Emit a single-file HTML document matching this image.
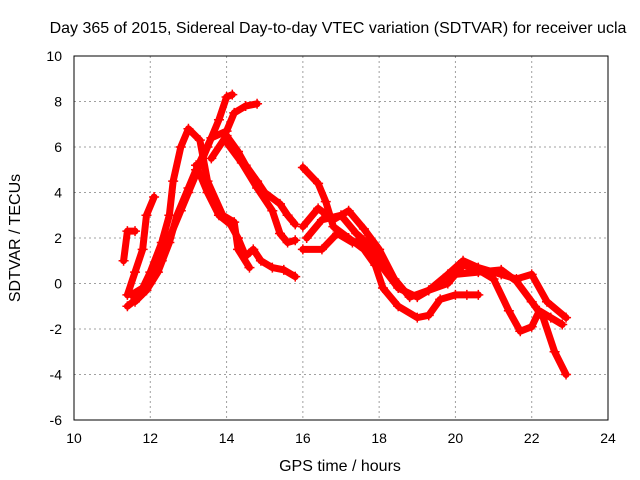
<!DOCTYPE html>
<html><head><meta charset="utf-8"><style>
body{margin:0;background:#fff;}
svg{display:block;font-family:"Liberation Sans",Arial,sans-serif;}
</style></head><body>
<svg id="chart" width="640" height="480">
<rect x="0" y="0" width="640" height="480" fill="#fff"/>
<text x="338" y="33" font-size="16" text-anchor="middle">Day 365 of 2015, Sidereal Day-to-day VTEC variation (SDTVAR) for receiver ucla</text>
<text x="340" y="471" font-size="16" text-anchor="middle">GPS time / hours</text>
<text transform="translate(20,238) rotate(-90)" font-size="16" text-anchor="middle">SDTVAR / TECUs</text>
<g id="grid"></g><g id="axes"></g><g id="series"></g>
</svg>
<script>
const xTicks=[10,12,14,16,18,20,22,24];
const yTicks=[-6,-4,-2,0,2,4,6,8,10];
const trackA=[[11.4,-1],[11.7,-0.6],[12,0],[12.3,1],[12.5,2],[12.8,3.2],[13,4],[13.3,5.2],[13.5,6],[13.8,7.2],[14,8.2],[14.15,8.3]];
const trackB=[[11.5,-0.5],[11.8,-0.2],[12,0.5],[12.3,1.8],[12.5,3],[12.6,4.5],[12.8,6],[13,6.8],[13.3,6.3],[13.5,4.5],[13.9,3],[14.2,2.7],[14.3,1.5],[14.6,0.7]];
const trackC=[[11.6,-0.8],[11.9,-0.3],[12.2,0.5],[12.5,1.8],[12.7,3],[13,4.2],[13.2,5],[13.6,6.4],[14,6.7],[14.2,7.5],[14.5,7.8],[14.8,7.9]];
const trackD=[[13.6,5.5],[14,6.5],[14.3,5.8],[14.5,5.2],[14.8,4.5],[15,4],[15.4,3.5],[15.6,3],[15.8,2.6]];
const trackE=[[14,6.2],[14.4,5.3],[14.8,4.2],[15.2,3.2],[15.4,2.2],[15.6,1.8],[15.8,1.9]];
const trackF=[[13.2,5.2],[13.5,4],[13.8,3],[14.1,2.6],[14.3,2],[14.5,1.2],[14.7,1.5],[14.9,1],[15.2,0.7],[15.5,0.6],[15.8,0.3]];
const trackG=[[11.3,1],[11.4,2.3],[11.6,2.3]];
const trackH=[[11.4,-0.5],[11.6,0.5],[11.8,1.5],[11.9,3],[12.1,3.8]];
const trackR1=[[16,5.1],[16.4,4.4],[16.6,3.6],[16.8,2.5],[17.2,2],[17.6,1.5],[17.9,0.8],[18.1,-0.2],[18.5,-1],[19,-1.5],[19.3,-1.4],[19.6,-0.7],[20,-0.5],[20.3,-0.5],[20.6,-0.5]];
const trackR2=[[16,1.5],[16.5,1.5],[16.9,2.2],[17.3,1.8],[17.6,1.9],[18,0.9],[18.5,-0.2],[19,-0.6],[19.3,-0.3],[19.8,0],[20.2,0.8],[20.6,0.6],[21,0.2],[21.4,-1.2],[21.7,-2.1],[22,-1.9],[22.2,-1.2],[22.5,-1.5],[22.8,-1.8]];
const trackR3=[[16,2.5],[16.4,3.3],[16.8,2.8],[17.2,3.2],[17.6,2.4],[18,1.5],[18.4,0.2],[18.8,-0.6],[19.3,-0.3],[19.8,0.4],[20.2,1],[20.6,0.7],[21.2,0.4],[21.6,0.2],[22,0.4],[22.4,-0.8],[22.9,-1.5]];
const trackR4=[[20,0.4],[20.6,0.5],[21.2,0.6],[21.6,0.1],[22,-0.8],[22.3,-1.5],[22.6,-3],[22.9,-4]];
const trackR5=[[16.1,2],[16.5,2.8],[17,3],[17.4,2.2],[17.8,1.6],[18.1,1]];
const tracks=[trackA,trackB,trackC,trackD,trackE,trackF,trackG,trackH,trackR1,trackR2,trackR3,trackR4,trackR5];
const X0=74,X1=608,Y0=420,Y1=56;
const xs=h=>X0+(h-10)/(24-10)*(X1-X0);
const ys=v=>Y0-(v+6)/(16)*(Y0-Y1);
const NS="http://www.w3.org/2000/svg";
function mk(tag,attrs,parent){const e=document.createElementNS(NS,tag);for(const k in attrs)e.setAttribute(k,attrs[k]);parent.appendChild(e);return e;}
const grid=document.getElementById('grid'),axes=document.getElementById('axes'),ser=document.getElementById('series');
xTicks.forEach(t=>{
  if(t>10&&t<24){const l=mk('line',{x1:xs(t),x2:xs(t),y1:Y1,y2:Y0,stroke:'#a0a0a0','stroke-dasharray':'2,3'},grid);
  
  }
  const tx=mk('text',{x:xs(t),y:443,'font-size':14,'text-anchor':'middle'},axes);tx.textContent=t;
  
  
});
yTicks.forEach(t=>{
  if(t>-6&&t<10){const l=mk('line',{x1:X0,x2:X1,y1:ys(t),y2:ys(t),stroke:'#a0a0a0','stroke-dasharray':'2,3'},grid);
  
  }
  const tx=mk('text',{x:62,y:ys(t)+5,'font-size':14,'text-anchor':'end'},axes);tx.textContent=t;
  
  
});
const fr=mk('rect',{x:X0,y:Y1,width:X1-X0,height:Y0-Y1,fill:'none',stroke:'#000'},axes);


tracks.forEach(tr=>{
  const pl=mk('polyline',{points:tr.map(p=>xs(p[0])+','+ys(p[1])).join(' '),fill:'none',stroke:'#f00','stroke-width':7,'stroke-linejoin':'round','stroke-linecap':'round'},ser);
  
  
  tr.forEach(p=>{
    const x=xs(p[0]),y=ys(p[1]);
    const m=mk('path',{d:`M${x-5},${y}h10M${x},${y-5}v10`,stroke:'#f00','stroke-width':1.5},ser);
    
    
  });
});
</script>
</body></html>
